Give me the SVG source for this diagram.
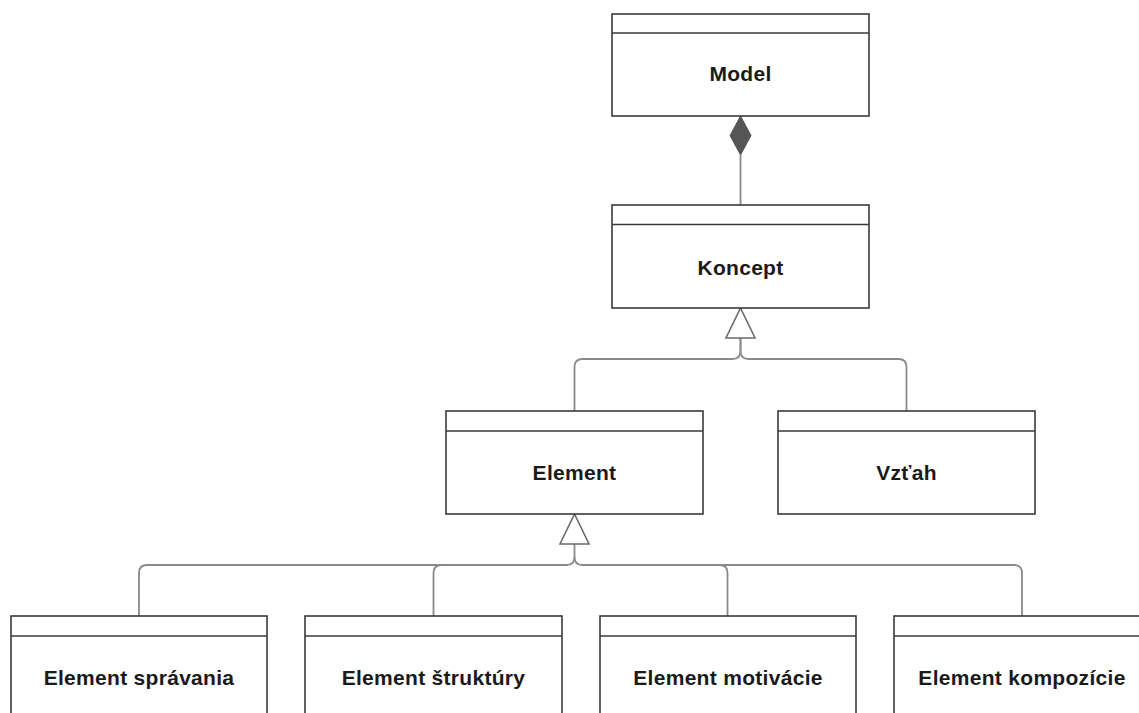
<svg xmlns="http://www.w3.org/2000/svg" width="1139" height="713" viewBox="0 0 1139 713">
<style>
.box{fill:#fff;stroke:#3a3a3a;stroke-width:1.6}
.div{stroke:#3a3a3a;stroke-width:1.6}
.lbl{font-family:"Liberation Sans",Arial,sans-serif;font-weight:bold;font-size:21px;letter-spacing:0.3px;fill:#1a1a1a;text-anchor:middle}
.con{fill:none;stroke:#8a8a8a;stroke-width:1.8}
.tri{fill:#fff;stroke:#6a6a6a;stroke-width:1.6}
.dia{fill:#555;stroke:#555;stroke-width:1}
</style>
<rect width="1139" height="713" fill="#fff"/>
<g id="connectors">
<path class="con" d="M740.5 155 V205"/>
<polygon class="dia" points="740.5,116 751,135.5 740.5,155 730,135.5"/>
<path class="con" d="M574.5 411 V367 Q574.5 359 582.5 359 H732.5 Q740.5 359 740.5 351 V338"/>
<path class="con" d="M906.5 411 V367 Q906.5 359 898.5 359 H748.5 Q740.5 359 740.5 351 V338"/>
<polygon class="tri" points="740.5,308 755,338 726,338"/>
<path class="con" d="M139 616 V573 Q139 565 147 565 H566.5 Q574.5 565 574.5 557 V544"/>
<path class="con" d="M433.5 616 V573 Q433.5 565 441.5 565 H566.5"/>
<path class="con" d="M727.5 616 V573 Q727.5 565 719.5 565 H582.5 Q574.5 565 574.5 557"/>
<path class="con" d="M1022 616 V573 Q1022 565 1014 565 H719.5"/>
<polygon class="tri" points="574.5,514 589,544 560,544"/>
</g>
<g id="model">
<rect class="box" x="612" y="14" width="257" height="102"/>
<line class="div" x1="612" y1="33" x2="869" y2="33"/>
<text class="lbl" x="740.5" y="81">Model</text>
</g>
<g id="koncept">
<rect class="box" x="612" y="205" width="257" height="103"/>
<line class="div" x1="612" y1="224.5" x2="869" y2="224.5"/>
<text class="lbl" x="740.5" y="275">Koncept</text>
</g>
<g id="element">
<rect class="box" x="446" y="411" width="257" height="103"/>
<line class="div" x1="446" y1="431" x2="703" y2="431"/>
<text class="lbl" x="574.5" y="480">Element</text>
</g>
<g id="vztah">
<rect class="box" x="778" y="411" width="257" height="103"/>
<line class="div" x1="778" y1="431" x2="1035" y2="431"/>
<text class="lbl" x="906.5" y="480">Vzťah</text>
</g>
<g id="element-spravania">
<rect class="box" x="11" y="616" width="256" height="110"/>
<line class="div" x1="11" y1="636" x2="267" y2="636"/>
<text class="lbl" x="139" y="685">Element správania</text>
</g>
<g id="element-struktury">
<rect class="box" x="305" y="616" width="257" height="110"/>
<line class="div" x1="305" y1="636" x2="562" y2="636"/>
<text class="lbl" x="433.5" y="685">Element štruktúry</text>
</g>
<g id="element-motivacie">
<rect class="box" x="600" y="616" width="256" height="110"/>
<line class="div" x1="600" y1="636" x2="856" y2="636"/>
<text class="lbl" x="728" y="685">Element motivácie</text>
</g>
<g id="element-kompozicie">
<rect class="box" x="894" y="616" width="256" height="110"/>
<line class="div" x1="894" y1="636" x2="1150" y2="636"/>
<text class="lbl" x="1022" y="685">Element kompozície</text>
</g>
</svg>
